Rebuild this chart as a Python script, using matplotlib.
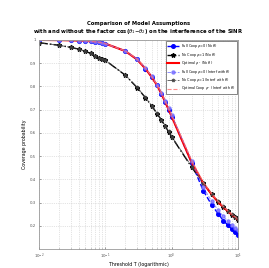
import numpy as np
import matplotlib.pyplot as plt

# Data
T = [0.01, 0.02, 0.03, 0.04, 0.05, 0.06, 0.07, 0.08, 0.09, 0.1,
     0.2, 0.3, 0.4, 0.5, 0.6, 0.7, 0.8, 0.9, 1,
     2, 3, 4, 5, 6, 7, 8, 9, 10]

full_coop = [1.0, 0.999, 0.998, 0.997, 0.996, 0.994, 0.992, 0.990, 0.987, 0.984,
             0.952, 0.916, 0.877, 0.840, 0.805, 0.768, 0.732, 0.700, 0.670,
             0.470, 0.350, 0.290, 0.252, 0.222, 0.203, 0.186, 0.173, 0.162]
no_coop = [0.988, 0.977, 0.968, 0.960, 0.951, 0.942, 0.932, 0.923, 0.918, 0.912,
           0.848, 0.795, 0.752, 0.716, 0.683, 0.655, 0.628, 0.604, 0.582,
           0.452, 0.382, 0.335, 0.302, 0.280, 0.262, 0.248, 0.236, 0.225]
optimal = [1.0, 0.999, 0.998, 0.997, 0.996, 0.994, 0.992, 0.990, 0.987, 0.984,
           0.952, 0.916, 0.877, 0.840, 0.805, 0.768, 0.732, 0.700, 0.670,
           0.472, 0.382, 0.335, 0.302, 0.280, 0.262, 0.248, 0.236, 0.225]

full_coop_th = [1.0, 0.999, 0.998, 0.997, 0.996, 0.994, 0.992, 0.990, 0.987, 0.984,
                0.953, 0.918, 0.880, 0.843, 0.808, 0.772, 0.737, 0.705, 0.676,
                0.480, 0.365, 0.305, 0.268, 0.240, 0.220, 0.204, 0.191, 0.180]
no_coop_th = [0.988, 0.977, 0.968, 0.960, 0.951, 0.942, 0.932, 0.923, 0.918, 0.912,
              0.849, 0.796, 0.753, 0.717, 0.684, 0.656, 0.630, 0.606, 0.584,
              0.455, 0.385, 0.338, 0.305, 0.283, 0.265, 0.251, 0.239, 0.228]
optimal_th = [1.0, 0.999, 0.998, 0.997, 0.996, 0.994, 0.992, 0.990, 0.987, 0.984,
              0.953, 0.918, 0.880, 0.843, 0.808, 0.772, 0.737, 0.705, 0.676,
              0.482, 0.386, 0.338, 0.305, 0.283, 0.265, 0.251, 0.239, 0.228]

labels = ['Full Coop $\\rho$=0 (No $\\theta$)',
          'No Coop $\\rho$=1 (No $\\theta$)',
          'Optimal $\\rho^*$ (No $\\theta$)',
          'Full Coop $\\rho$=0 (Interf with $\\theta$)',
          'No Coop $\\rho$=1 (Interf with $\\theta$)',
          'Optimal Coop $\\rho^*$ (Interf with $\\theta$)']

fig = plt.figure(figsize=(2.69, 2.68), dpi=100)
ax = fig.add_axes([0.145, 0.071, 0.74, 0.78])

ax.plot(T, full_coop, '--o', color='blue', lw=1.0, ms=2.6, label=labels[0])
ax.plot(T, no_coop, '-.*', color='black', lw=1.0, ms=3.2, label=labels[1])
ax.plot(T, optimal, '-', color='red', lw=1.5, label=labels[2])
ax.plot(T, full_coop_th, '--o', color='#7070ff', lw=0.7, ms=2.2, mfc='#9070ff', alpha=0.8, label=labels[3])
ax.plot(T, no_coop_th, '-.*', color='#404040', lw=0.7, ms=2.4, alpha=0.8, label=labels[4])
ax.plot(T, optimal_th, '--', color='#ff7070', lw=0.8, alpha=0.8, label=labels[5])

ax.set_xscale('log')
ax.set_xlim(0.01, 10)
ax.set_ylim(0.1, 1.0)
ax.set_yticks([0.2, 0.3, 0.4, 0.5, 0.6, 0.7, 0.8, 0.9, 1.0])
ax.set_yticklabels(['0.2', '0.3', '0.4', '0.5', '0.6', '0.7', '0.8', '0.9', '1'])
ax.grid(True, which='major', ls=':', color='#c8c8c8', lw=0.5)
ax.grid(True, which='minor', axis='x', ls=':', color='#c8c8c8', lw=0.5)
ax.tick_params(which='both', direction='in', labelsize=2.8, length=1.5, width=0.4,
               colors='#555555', pad=2)
ax.tick_params(which='minor', length=1)
for s in ax.spines.values():
    s.set_color('#999999')
    s.set_linewidth(0.6)

ax.set_xlabel('Threshold T (logarithmic)', fontsize=3.4, labelpad=1)
ax.set_ylabel('Coverage probability', fontsize=3.4, labelpad=2)
ax.set_title('Comparison of Model Assumptions\n'
             'with and without the factor cos($\\theta_1$$-$$\\theta_2$) on the interference of the SINR',
             fontsize=3.8, fontweight='bold', pad=5, linespacing=1.1)

leg = ax.legend(loc='upper right', fontsize=2.4, handlelength=3.6, borderpad=0.35,
                labelspacing=0.1, handletextpad=0.6, fancybox=False, framealpha=1,
                borderaxespad=0.4)
leg.get_frame().set_edgecolor('#555555')
leg.get_frame().set_linewidth(0.5)

fig.savefig('out.png', dpi=100)
